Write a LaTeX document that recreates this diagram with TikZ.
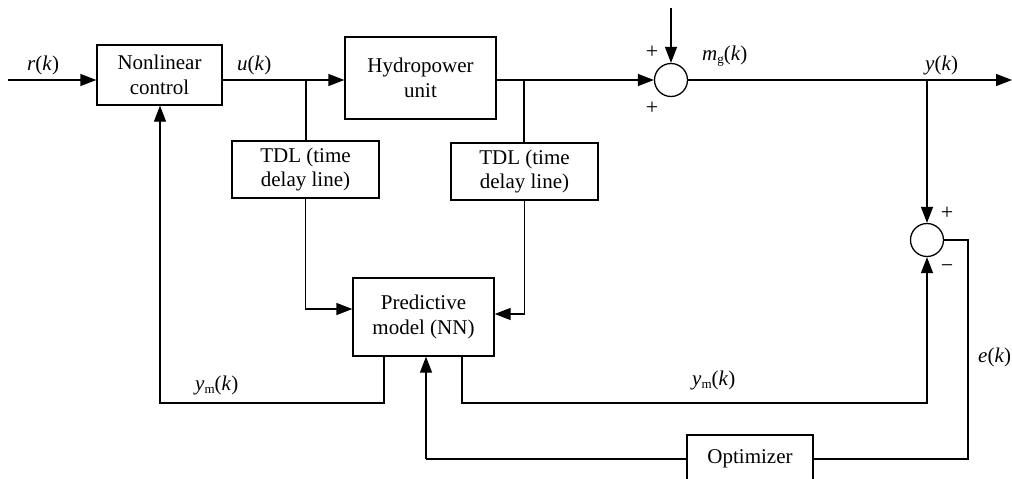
\documentclass[tikz,border=0pt]{standalone}
\usepackage{fontspec}
\setmainfont{Liberation Serif}
\usetikzlibrary{arrows.meta}
\newcommand{\mysub}[1]{\raisebox{-0.35ex}{\fontsize{13}{13}\selectfont #1}}
\tikzset{
  every node/.style={font=\fontsize{21}{24.5}\selectfont},
  blk/.style={draw, line width=1.3pt, inner sep=0pt, align=center},
  sumc/.style={draw, circle, line width=1.3pt, minimum size=33pt, inner sep=0pt},
  wire/.style={line width=1.3pt},
  arr/.style={line width=1.3pt, -{Triangle[length=16pt,width=12pt]}},
  sgn/.style={font=\fontsize{22}{22}\selectfont, inner sep=0pt},
  lbl/.style={inner sep=0pt, anchor=base west}
}
\begin{document}
\begin{tikzpicture}[x=1pt,y=-1pt]
\clip (0,0) rectangle (1012,479);
\fill[white] (0,0) rectangle (1012,479);
% blocks
\node[blk, minimum width=125pt, minimum height=60pt] (nl) at (159.5,75) {Nonlinear\\control};
\node[blk, minimum width=151pt, minimum height=82pt] (hp) at (420.5,78) {Hydropower\\unit};
\node[blk, minimum width=147pt, minimum height=57pt] (tdla) at (305.5,169.5) {TDL (time\\delay line)};
\node[blk, minimum width=147pt, minimum height=57pt] (tdlb) at (524.5,171.5) {TDL (time\\delay line)};
\node[blk, minimum width=141pt, minimum height=78pt] (pm) at (423.5,317) {Predictive\\model (NN)};
\node[blk, minimum width=126pt, minimum height=48pt] (opt) at (750,459) {Optimizer};
\node[sumc] (sa) at (671,80) {};
\node[sumc] (sb) at (927,240) {};
% coordinates
\coordinate (in) at (8,80);
\coordinate (ja) at (306,80);
\coordinate (jb) at (524,80);
\coordinate (jc) at (927,80);
\coordinate (dtop) at (671,8);
\coordinate (out) at (1012,80);
\coordinate (ea) at (968,240);
\coordinate (eb) at (968,459);
\coordinate (oa) at (426,459);
\coordinate (la) at (384,403);
\coordinate (lb) at (160,403);
\coordinate (ra) at (462,403);
\coordinate (rb) at (927,403);
% connectors
\draw[arr] (in) -- (in -| nl.west);
\draw[wire] (ja -| nl.east) -- (ja);
\draw[arr] (ja) -- (ja -| hp.west);
\draw[wire] (jb -| hp.east) -- (jb);
\draw[arr] (jb) -- (sa.west);
\draw[arr] (dtop) -- (sa.north);
\draw[wire] (sa.east) -- (jc);
\draw[arr] (jc) -- (out);
\draw[arr] (jc) -- (sb.north);
\draw[wire] (sb.east) -- (ea) -- (eb) -- (opt.east);
\draw[wire] (opt.west) -- (oa);
\draw[arr] (oa) -- (oa |- pm.south);
\draw[wire] (ja) -- (ja |- tdla.north);
\draw[arr] (tdla.south) -- (tdla.south |- 0,309) -- (pm.west |- 0,309);
\draw[wire] (jb) -- (jb |- tdlb.north);
\draw[arr] (tdlb.south) -- (tdlb.south |- 0,314) -- (pm.east |- 0,314);
\draw[arr] (la |- pm.south) -- (la) -- (lb) -- (lb |- nl.south);
\draw[arr] (ra |- pm.south) -- (ra) -- (rb) -- (sb.south);
% labels
\node[lbl] (lr) at (27,70) {\textit{r}(\textit{k})};
\node[lbl] (lu) at (237,70) {\textit{u}(\textit{k})};
\node[lbl] (lm) at (702,60) {\textit{m}\mysub{g}(\textit{k})};
\node[lbl] (ly) at (925,70) {\textit{y}(\textit{k})};
\node[lbl] (lyma) at (195,390) {\textit{y}\mysub{m}(\textit{k})};
\node[lbl] (lymb) at (692,385) {\textit{y}\mysub{m}(\textit{k})};
\node[lbl] (le) at (978,362) {\textit{e}(\textit{k})};
\node[sgn] (pa) at (652,52) {+};
\node[sgn] (pb) at (652,108) {+};
\node[sgn] (pc) at (947,213) {+};
\node[sgn] (pd) at (947,269) {\textminus};
\end{tikzpicture}
\end{document}
